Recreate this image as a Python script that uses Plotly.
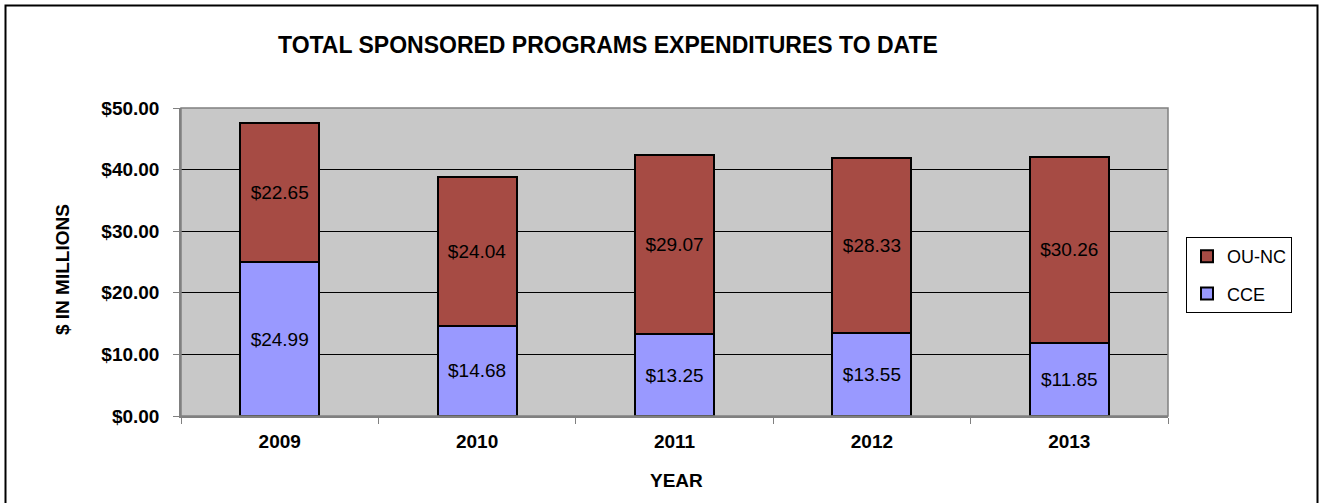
import plotly.graph_objects as go

years = ["2009", "2010", "2011", "2012", "2013"]
cce = [24.99, 14.68, 13.25, 13.55, 11.85]
ounc = [22.65, 24.04, 29.07, 28.33, 30.26]
y_ticks = [0, 10, 20, 30, 40, 50]

FONT = "Arial, Liberation Sans, sans-serif"
W, H = 1320, 503
L, R, T, B = 181, 152, 108, 87
pw, ph = W - L - R, H - T - B

def px_x(x):
    return (x - L) / pw

def px_y(y):
    return (H - B - y) / ph

fig = go.Figure()
fig.add_trace(go.Bar(
    x=years, y=cce, name="CCE",
    marker=dict(color="#9999FF", line=dict(color="black", width=2)),
    text=[f"${v:.2f}" for v in cce], textposition="inside",
    insidetextanchor="middle", textangle=0,
    textfont=dict(family=FONT, size=19, color="black"),
    legendgroup="cce", legendrank=2,
))
fig.add_trace(go.Bar(
    x=years, y=ounc, name="OU-NC",
    marker=dict(color="#A64B44", line=dict(color="black", width=2)),
    text=[f"${v:.2f}" for v in ounc], textposition="inside",
    insidetextanchor="middle", textangle=0,
    textfont=dict(family=FONT, size=19, color="black"),
    legendgroup="ounc", legendrank=1,
))

fig.update_layout(
    width=W, height=H,
    barmode="stack", bargap=0.6,
    plot_bgcolor="#C8C8C8", paper_bgcolor="white",
    margin=dict(l=L, r=R, t=T, b=B, autoexpand=False),
    font=dict(family=FONT, color="black"),
    xaxis=dict(
        type="category", tickson="boundaries", ticks="outside", ticklen=6,
        tickcolor="#808080", showline=True, linecolor="#808080", linewidth=1.5,
        showgrid=False, ticklabelstandoff=7,
        tickfont=dict(family=FONT, size=19, color="black", weight="bold"),
    ),
    yaxis=dict(
        range=[0, 50], tickvals=y_ticks, tickformat="$.2f",
        ticks="outside", ticklen=6, tickcolor="#808080",
        showline=True, linecolor="#808080", linewidth=1.5,
        showgrid=True, gridcolor="black", gridwidth=1,
        zeroline=False,
        tickfont=dict(family=FONT, size=19, color="black", weight="bold"),
        ticklabelstandoff=10,
    ),
    legend=dict(
        x=px_x(1186), y=px_y(237), xanchor="left", yanchor="top",
        bgcolor="white", bordercolor="black", borderwidth=1,
        font=dict(family=FONT, size=18, color="black"),
        traceorder="grouped", tracegroupgap=11,
        itemwidth=30,
    ),
    showlegend=True,
    annotations=[
        dict(text="<b>TOTAL SPONSORED PROGRAMS EXPENDITURES TO DATE</b>",
             x=px_x(608), y=px_y(45), xref="paper", yref="paper",
             showarrow=False, font=dict(family=FONT, size=23, color="black"),
             xanchor="center", yanchor="middle"),
        dict(text="<b>$ IN MILLIONS</b>", textangle=-90,
             x=px_x(62), y=px_y(270), xref="paper", yref="paper",
             showarrow=False, font=dict(family=FONT, size=19, color="black"),
             xanchor="center", yanchor="middle"),
        dict(text="<b>YEAR</b>",
             x=px_x(676), y=px_y(480), xref="paper", yref="paper",
             showarrow=False, font=dict(family=FONT, size=19, color="black"),
             xanchor="center", yanchor="middle"),
    ],
    shapes=[
        dict(type="rect", xref="paper", yref="paper", x0=0, x1=1, y0=0, y1=1,
             line=dict(color="#808080", width=1.5), layer="above"),
        dict(type="rect", xref="paper", yref="paper",
             x0=px_x(5.5), x1=px_x(1317.5), y0=px_y(510), y1=px_y(5.5),
             line=dict(color="black", width=2), layer="above"),
    ],
)

fig.write_html(
    "out.html",
    config={"displayModeBar": False},
    post_script="document.body.style.margin='0';document.body.style.overflow='hidden';",
)
